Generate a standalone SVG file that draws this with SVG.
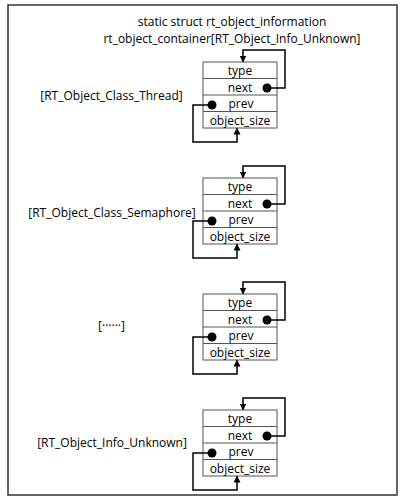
<svg xmlns="http://www.w3.org/2000/svg" width="407" height="503" viewBox="0 0 407 503">
<style>
text{font-family:"Open Sans","Noto Sans","Liberation Sans",sans-serif;fill:#000;font-size:12px;font-weight:500}
.c{text-anchor:middle}
.box{fill:#fff;stroke:#555;stroke-width:1}
.row{stroke:#555;stroke-width:1}
.link{fill:none;stroke:#000;stroke-width:1.5;marker-end:url(#ah)}
.dot{fill:#000}
</style>
<defs>
<marker id="ah" markerUnits="userSpaceOnUse" markerWidth="8" markerHeight="8" refX="6" refY="3.5" orient="auto">
<path d="M0,0 L7,3.5 L0,7 Z" fill="#000"/>
</marker>
<g id="node">
<rect class="box" x="203" y="0" width="74" height="66"/>
<line class="row" x1="203" y1="16.5" x2="277" y2="16.5"/>
<line class="row" x1="203" y1="33" x2="277" y2="33"/>
<line class="row" x1="203" y1="49.5" x2="277" y2="49.5"/>
<text class="c" x="240" y="13">type</text>
<text class="c" x="240" y="29.5">next</text>
<text class="c" x="241" y="46">prev</text>
<text class="c" x="240" y="62.5">object_size</text>
</g>
</defs>
<rect x="8" y="5" width="389" height="490" fill="#fff" stroke="#333" stroke-width="1.5"/>
<text class="c" x="232" y="26">static struct rt_object_information</text>
<text class="c" x="232" y="42.5">rt_object_container[RT_Object_Info_Unknown]</text>
<g id="node-thread" transform="translate(0,62)"><use href="#node"/></g>
<g id="node-semaphore" transform="translate(0,178)"><use href="#node"/></g>
<g id="node-more" transform="translate(0,294)"><use href="#node"/></g>
<g id="node-unknown" transform="translate(0,410)"><use href="#node"/></g>
<g id="labels">
<text class="c" x="111.5" y="100">[RT_Object_Class_Thread]</text>
<text class="c" x="112" y="217">[RT_Object_Class_Semaphore]</text>
<text class="c" x="111.5" y="330">[······]</text>
<text class="c" x="112" y="447">[RT_Object_Info_Unknown]</text>
</g>
<g id="connectors">
<g transform="translate(0,62)">
<circle class="dot" cx="267" cy="26" r="4.5"/><path class="link" d="M267,26 H285 V-12 H243 V-0.5"/>
<circle class="dot" cx="212" cy="43" r="4.5"/><path class="link" d="M212,43 H193 V80 H237 V66.5"/>
</g>
<g transform="translate(0,178)">
<circle class="dot" cx="267" cy="26" r="4.5"/><path class="link" d="M267,26 H285 V-12 H243 V-0.5"/>
<circle class="dot" cx="212" cy="43" r="4.5"/><path class="link" d="M212,43 H193 V80 H237 V66.5"/>
</g>
<g transform="translate(0,294)">
<circle class="dot" cx="267" cy="26" r="4.5"/><path class="link" d="M267,26 H285 V-12 H243 V-0.5"/>
<circle class="dot" cx="212" cy="43" r="4.5"/><path class="link" d="M212,43 H193 V80 H237 V66.5"/>
</g>
<g transform="translate(0,410)">
<circle class="dot" cx="267" cy="26" r="4.5"/><path class="link" d="M267,26 H285 V-12 H243 V-0.5"/>
<circle class="dot" cx="212" cy="43" r="4.5"/><path class="link" d="M212,43 H193 V80 H237 V66.5"/>
</g>
</g>
</svg>
